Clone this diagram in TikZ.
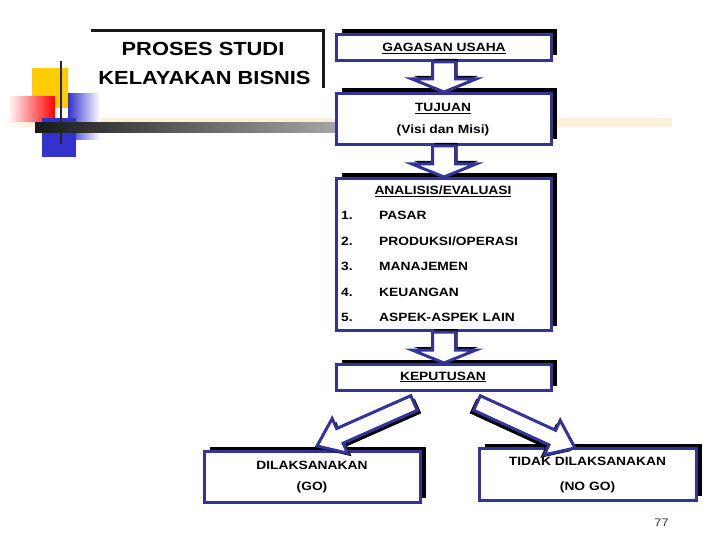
\documentclass[tikz,border=0pt]{standalone}
\usepackage{fontspec}
\setmainfont{Liberation Sans}[FakeStretch=1.15]
\usetikzlibrary{calc,shadows}
\definecolor{navy}{RGB}{51,51,153}
\definecolor{beige}{RGB}{253,240,216}
\definecolor{sqyellow}{RGB}{255,204,0}
\definecolor{sqblue}{RGB}{51,51,204}
\tikzset{
  box/.style={draw=navy, line width=3pt, fill=white, inner sep=0pt,
    drop shadow={shadow xshift=5pt, shadow yshift=5pt, opacity=1, fill=black}},
  txt/.style={inner sep=0pt, anchor=base, font=\fontsize{12}{14}\selectfont\bfseries},
  itm/.style={inner sep=0pt, anchor=base west, font=\fontsize{12}{14}\selectfont\bfseries},
  ttl/.style={inner sep=0pt, anchor=base, font=\fontsize{19}{22}\selectfont\bfseries},
  arrbody/.style={draw=navy, line width=3pt, fill=white, line join=miter},
}
\newcommand\blockarrow[6]{%
  \coordinate (hb) at ($(#2)!#5!(#1)$);
  \begin{scope}[transform canvas={shift={#6}}]
    \fill[black] ($(#1)!#3!90:(#2)$) -- ($(hb)!#3!90:(#2)$) -- ($(hb)!#4!90:(#2)$) -- (#2)
      -- ($(hb)!#4!-90:(#2)$) -- ($(hb)!#3!-90:(#2)$) -- ($(#1)!#3!-90:(#2)$) -- cycle;
  \end{scope}
  \draw[arrbody] ($(#1)!#3!90:(#2)$) -- ($(hb)!#3!90:(#2)$) -- ($(hb)!#4!90:(#2)$) -- (#2)
      -- ($(hb)!#4!-90:(#2)$) -- ($(hb)!#3!-90:(#2)$) -- ($(#1)!#3!-90:(#2)$) -- cycle;
}
\begin{document}
\begin{tikzpicture}[x=1pt,y=-1pt]
\useasboundingbox (0,0) rectangle (720,540);
\fill[white] (0,0) rectangle (720,540);

% decoration
\fill[beige] (30,118) rectangle (672,127);
\shade[left color=white, right color=beige] (0,118) rectangle (30,127);
\fill[sqyellow] (32,68) rectangle (68,108);
\shade[left color=sqblue, right color=white] (68,94) rectangle (100,140);
\shade[left color=red!5, right color=red] (10,97) rectangle (55,122);
\fill[sqblue] (42,118) rectangle (76,157);
\shade[left color=black!90, right color=black!35] (35,123) rectangle (338,133);
\draw[black!85, line width=2.5pt] (61,61) -- (61,144);

% title
\draw[black!90, line width=3.5pt, line join=miter] (91,30.5) -- (323.5,30.5) -- (323.5,88);
\node[ttl] (title1) at (203,56) {PROSES STUDI};
\node[ttl] (title2) at (204.5,85) {KELAYAKAN BISNIS};

% boxes
\node[box, minimum width=215pt, minimum height=26pt] (gagasan) at (444,47.5) {};
\node[box, minimum width=215pt, minimum height=51pt] (tujuan) at (444,119) {};
\node[box, minimum width=215pt, minimum height=152pt] (analisis) at (444,254.5) {};
\node[box, minimum width=215pt, minimum height=26pt] (keputusan) at (444,377.5) {};
\node[box, minimum width=216pt, minimum height=51pt] (go) at (312.5,477) {};
\node[box, minimum width=217pt, minimum height=52pt] (nogo) at (588,474.5) {};

% arrows
\blockarrow{gagasan.south}{tujuan.north}{11.5pt}{32pt}{13pt}{(2,-3)}
\blockarrow{tujuan.south}{analisis.north}{11.5pt}{32pt}{13pt}{(2,-3)}
\blockarrow{analisis.south}{keputusan.north}{11.5pt}{32pt}{13pt}{(2,-3)}
\coordinate (ls) at (414,403);
\coordinate (lt) at (317,446);
\coordinate (rs) at (477,403);
\coordinate (rt) at (575,448);
\blockarrow{ls}{lt}{8pt}{19pt}{25pt}{(4,3)}
\blockarrow{rs}{rt}{8pt}{19pt}{25pt}{(-4,3)}

% texts
\node[txt] (t-gag) at (444,51.3) {\underline{GAGASAN USAHA}};
\node[txt] (t-tuj) at (443,111.5) {\underline{TUJUAN}};
\node[txt] (t-vis) at (443,134) {(Visi dan Misi)};
\node[txt] (t-ana) at (443,195) {\underline{ANALISIS/EVALUASI}};
\node[itm] (n1) at (341,219.3) {1.};
\node[itm] (i1) at (379,219.3) {PASAR};
\node[itm] (n2) at (341,245) {2.};
\node[itm] (i2) at (379,245) {PRODUKSI/OPERASI};
\node[itm] (n3) at (341,270.7) {3.};
\node[itm] (i3) at (379,270.7) {MANAJEMEN};
\node[itm] (n4) at (341,296) {4.};
\node[itm] (i4) at (379,296) {KEUANGAN};
\node[itm] (n5) at (341,321) {5.};
\node[itm] (i5) at (379,321) {ASPEK-ASPEK LAIN};
\node[txt] (t-kep) at (443,380) {\underline{KEPUTUSAN}};
\node[txt] (t-dil) at (312,469) {DILAKSANAKAN};
\node[txt] (t-go) at (312,490) {(GO)};
\node[txt] (t-tid) at (587.5,465.7) {TIDAK DILAKSANAKAN};
\node[txt] (t-nogo) at (587.5,490) {(NO GO)};
\node[inner sep=0pt, anchor=base, font=\fontsize{11}{13}\selectfont, text=black!80] (pg) at (661.5,526) {77};
\end{tikzpicture}
\end{document}
